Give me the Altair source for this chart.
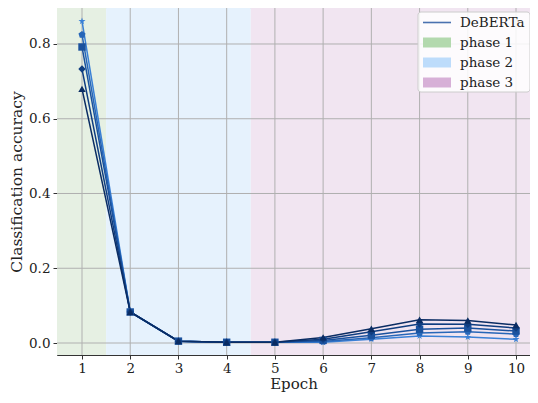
import altair as alt
import pandas as pd

epochs = [1, 2, 3, 4, 5, 6, 7, 8, 9, 10]
series_names = ["s1", "s2", "s3", "s4", "s5"]
series_values = {
    "s1": [0.680, 0.083, 0.005, 0.002, 0.002, 0.015, 0.038, 0.062, 0.060, 0.048],
    "s2": [0.733, 0.083, 0.005, 0.002, 0.002, 0.010, 0.030, 0.051, 0.050, 0.040],
    "s3": [0.792, 0.083, 0.005, 0.002, 0.002, 0.007, 0.021, 0.037, 0.040, 0.032],
    "s4": [0.825, 0.083, 0.005, 0.002, 0.002, 0.004, 0.014, 0.027, 0.030, 0.024],
    "s5": [0.861, 0.083, 0.005, 0.002, 0.002, 0.002, 0.010, 0.019, 0.016, 0.010],
}
series_colors = ["#0a2c63", "#0f3d80", "#1a519d", "#2766b8", "#3a80d6"]
star = "M0,-1L0.2245,-0.309L0.951,-0.309L0.363,0.118L0.588,0.809L0,0.382L-0.588,0.809L-0.363,0.118L-0.951,-0.309L-0.2245,-0.309Z"
pentagon = "M0,-1L0.951,-0.309L0.588,0.809L-0.588,0.809L-0.951,-0.309Z"
series_shapes = ["triangle-up", "diamond", "square", pentagon, star]

phase_names = ["phase 1", "phase 2", "phase 3"]
phase_start = [0.4, 1.5, 4.5]
phase_end = [1.5, 4.5, 10.6]
phase_band_colors = ["#e6f0e3", "#e6f2fd", "#f1e5f1"]
phase_legend_colors = ["#b3d9ae", "#bddcfb", "#d7b0d7"]

y_ticks = [0.0, 0.2, 0.4, 0.6, 0.8]

FONT = "DejaVu Serif"
PLOT_H = 347
XDOM = [0.4815, 10.29]
YDOM = [-0.0321, 0.8963]

# draw the lightest series first so the darkest ends up on top
rows = []
for n in reversed(series_names):
    for e, v in zip(epochs, series_values[n]):
        rows.append({"series": n, "epoch": e, "acc": v, "z": series_names.index(n)})
df = pd.DataFrame(rows)

bands = pd.DataFrame({"phase": phase_names, "start": phase_start, "end": phase_end})

xs = alt.Scale(domain=XDOM, nice=False, zero=False)
ys = alt.Scale(domain=YDOM, nice=False, zero=False)

x_axis = alt.Axis(values=epochs, grid=False, title="Epoch", labelFont=FONT, titleFont=FONT,
                  labelFontSize=13.5, titleFontSize=15, titleFontWeight="normal",
                  labelColor="#222", titleColor="#222", domainColor="#333", tickColor="#333",
                  tickSize=4, labelPadding=2, titlePadding=2, labelFlush=False)
y_axis = alt.Axis(values=y_ticks, grid=False, title="Classification accuracy", format=".1f",
                  labelFont=FONT, titleFont=FONT, labelFontSize=13.5, titleFontSize=15.5,
                  titleFontWeight="normal", labelColor="#222", titleColor="#222",
                  domainColor="#333", tickColor="#333", tickSize=4, labelPadding=3,
                  titlePadding=4, labelFlush=False)

band_layer = alt.Chart(bands).mark_rect(clip=True).encode(
    x=alt.X("start:Q", scale=xs, axis=x_axis),
    x2="end:Q",
    y=alt.value(0),
    y2=alt.value(PLOT_H),
    fill=alt.Fill("phase:N", scale=alt.Scale(domain=phase_names, range=phase_band_colors), legend=None),
)

vgrid = alt.Chart(pd.DataFrame({"epoch": epochs})).mark_rule(color="#b0b0b0", strokeWidth=1).encode(
    x=alt.X("epoch:Q", scale=xs, axis=x_axis)
)
hgrid = alt.Chart(pd.DataFrame({"acc": y_ticks})).mark_rule(color="#b0b0b0", strokeWidth=1).encode(
    y=alt.Y("acc:Q", scale=ys, axis=y_axis)
)

color_enc = alt.Color("series:N", scale=alt.Scale(domain=series_names, range=series_colors), legend=None)
lines = alt.Chart(df).mark_line(strokeWidth=1.5).encode(
    x=alt.X("epoch:Q", scale=xs, axis=x_axis),
    y=alt.Y("acc:Q", scale=ys, axis=y_axis),
    color=color_enc,
    detail="series:N",
)
points = alt.Chart(df).mark_point(filled=True, opacity=1, size=55).encode(
    x=alt.X("epoch:Q", scale=xs, axis=x_axis),
    y=alt.Y("acc:Q", scale=ys, axis=y_axis),
    color=color_enc,
    shape=alt.Shape("series:N", scale=alt.Scale(domain=series_names, range=series_shapes), legend=None),
    order=alt.Order("z:Q", sort="descending"),
)

one = pd.DataFrame({"a": [0]})
legend_box = alt.Chart(one).mark_rect(fill="white", fillOpacity=0.85, stroke="#cccccc",
                                      strokeWidth=1, cornerRadius=3).encode(
    x=alt.value(361), x2=alt.value(473), y=alt.value(4), y2=alt.value(84)
)
legend_line = alt.Chart(one).mark_rule(color="#4a72b0", strokeWidth=1.6).encode(
    x=alt.value(366), x2=alt.value(394), y=alt.value(14.5)
)
legend_layers = [legend_box, legend_line]
patch_y = [34.5, 54.5, 74.5]
for name, col, py in zip(phase_names, phase_legend_colors, patch_y):
    legend_layers.append(alt.Chart(one).mark_rect(fill=col).encode(
        x=alt.value(366), x2=alt.value(394), y=alt.value(py - 5), y2=alt.value(py + 5)))
legend_labels = ["DeBERTa"] + phase_names
label_y = [14.5] + patch_y
for lab, ly in zip(legend_labels, label_y):
    legend_layers.append(alt.Chart(one).mark_text(
        text=lab, font=FONT, fontSize=13.5, align="left", baseline="middle", color="#222").encode(
        x=alt.value(403), y=alt.value(ly)))

chart = alt.layer(band_layer, vgrid, hgrid, lines, points, *legend_layers).properties(
    width=473, height=PLOT_H,
    autosize=alt.AutoSizeParams(type="none"),
    padding={"left": 49, "top": 0, "right": 0, "bottom": 40},
).configure_view(strokeWidth=0).configure(background="white")

chart.save("out.html", embed_options={"renderer": "svg", "actions": False})
